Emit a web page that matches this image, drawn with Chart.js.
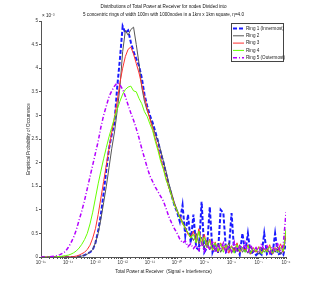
<!DOCTYPE html>
<html>
<head>
<meta charset="utf-8">
<script src="https://cdn.jsdelivr.net/npm/chart.js@4"></script>
<style>
html,body{margin:0;padding:0;background:#fff}
</style>
</head>
<body>
<canvas id="powerChart" width="316" height="289"></canvas>
<script>

// x bins: log10 of total received power
const powerExp = [-15.0,-14.9,-14.8,-14.7,-14.6,-14.5,-14.4,-14.3,-14.2,-14.1,
-14.0,-13.9,-13.8,-13.7,-13.6,-13.5,-13.4,-13.3,-13.2,-13.1,
-13.0,-12.9,-12.8,-12.7,-12.6,-12.5,-12.4,-12.3,-12.2,-12.1,
-12.0,-11.9,-11.8,-11.7,-11.6,-11.5,-11.4,-11.3,-11.2,-11.1,
-11.0,-10.9,-10.8,-10.7,-10.6,-10.5,-10.4,-10.3,-10.2,-10.1,
-10.0,-9.9,-9.8,-9.7,-9.6,-9.5,-9.4,-9.3,-9.2,-9.1,
-9.0,-8.9,-8.8,-8.7,-8.6,-8.5,-8.4,-8.3,-8.2,-8.1,
-8.0,-7.9,-7.8,-7.7,-7.6,-7.5,-7.4,-7.3,-7.2,-7.1,
-7.0,-6.9,-6.8,-6.7,-6.6,-6.5,-6.4,-6.3,-6.2,-6.1,
-6.0]

// probabilities, x 10^-3
const ring1 = [0,0,0,0,0,0,0,0,0,0,
0,0,0,0,0.01,0.02,0.04,0.07,0.1,0.15,
0.3,0.55,0.9,1.35,1.85,2.3,2.6,2.85,3.6,4.2,
4.89,4.75,4.8,4.55,4.35,4.2,4.05,3.8,3.45,3.2,
3.0,2.85,2.65,2.45,2.2,2.0,1.75,1.5,1.3,1.1,
0.95,0.75,1.1,0.45,0.9,0.3,0.9,0.2,0.15,1.17,
0.1,0.2,1.06,0.1,0.25,0.08,1.0,0.93,0.1,0.15,
0.93,0.08,0.2,0.05,0.5,0.1,0.5,0.05,0.12,0.04,
0.1,0.05,0.5,0.06,0.1,0.04,0.5,0.05,0.08,0.04,
0.3]

const ring2 = [0,0,0,0,0,0,0,0,0,0,
0,0,0,0,0.01,0.02,0.04,0.06,0.1,0.16,
0.3,0.5,0.8,1.15,1.5,1.9,2.3,2.65,3.1,3.6,
4.35,4.8,4.7,4.82,4.87,4.5,4.1,3.6,3.3,3.1,
2.95,2.78,2.6,2.45,2.25,2.02,1.8,1.55,1.35,1.15,
1.0,0.85,0.75,0.62,0.5,0.45,0.35,0.5,0.28,0.42,
0.2,0.36,0.15,0.3,0.12,0.28,0.1,0.22,0.14,0.3,
0.08,0.2,0.12,0.26,0.1,0.18,0.08,0.22,0.1,0.16,
0.06,0.2,0.1,0.18,0.08,0.16,0.1,0.22,0.06,0.14,
0.45]

const ring3 = [0,0,0,0,0,0,0,0,0,0,
0,0,0.01,0.02,0.04,0.07,0.1,0.16,0.25,0.4,
0.6,0.9,1.25,1.6,1.95,2.3,2.65,2.95,3.3,3.7,
4.0,4.25,4.4,4.45,4.3,4.1,3.9,3.65,3.4,3.15,
2.92,2.72,2.5,2.3,2.08,1.88,1.66,1.46,1.3,1.12,
0.96,0.86,0.7,0.62,0.48,0.42,0.55,0.3,0.6,0.26,
0.48,0.2,0.38,0.14,0.32,0.1,0.3,0.16,0.26,0.08,
0.24,0.12,0.3,0.1,0.2,0.14,0.26,0.06,0.2,0.1,
0.22,0.08,0.18,0.12,0.26,0.06,0.2,0.12,0.28,0.1,
0.55]

const ring4 = [0,0,0,0,0,0,0.01,0.01,0.02,0.03,
0.04,0.06,0.09,0.13,0.19,0.27,0.37,0.5,0.7,0.95,
1.25,1.55,1.82,2.08,2.32,2.55,2.75,2.95,3.13,3.3,
3.45,3.55,3.6,3.62,3.52,3.5,3.36,3.25,3.08,2.98,
2.82,2.68,2.45,2.25,2.02,1.85,1.62,1.48,1.28,1.1,
0.98,0.82,0.72,0.6,0.52,0.4,0.48,0.3,0.55,0.25,
0.42,0.2,0.35,0.15,0.3,0.12,0.28,0.1,0.25,0.15,
0.22,0.08,0.26,0.12,0.2,0.1,0.24,0.08,0.18,0.12,
0.2,0.06,0.16,0.1,0.22,0.08,0.18,0.1,0.2,0.12,
0.6]

const ring5 = [0,0,0,0,0.01,0.02,0.03,0.05,0.08,0.12,
0.2,0.3,0.42,0.58,0.78,0.98,1.2,1.45,1.7,1.95,
2.2,2.45,2.75,3.0,3.2,3.4,3.52,3.62,3.69,3.65,
3.55,3.4,3.22,3.05,2.9,2.72,2.52,2.3,2.1,1.9,
1.72,1.6,1.48,1.38,1.28,1.18,1.02,0.85,0.72,0.6,
0.5,0.38,0.3,0.34,0.22,0.28,0.18,0.25,0.14,0.3,
0.12,0.26,0.16,0.35,0.1,0.28,0.15,0.3,0.08,0.25,
0.12,0.32,0.1,0.22,0.14,0.3,0.08,0.26,0.12,0.2,
0.1,0.28,0.14,0.24,0.08,0.22,0.12,0.3,0.1,0.26,
0.95]

const ringNames = ['Ring 1 (Innermost)','Ring 2','Ring 3','Ring 4','Ring 5 (Outermost)']

const titleLines = ['Distributions of Total Power at Receiver for nodes Divided into',
'5 concentric rings of width 100m with 1000nodes in a 1km x 1km square, \u03b7=4.0']

const FONT = '"Liberation Sans", Arial, sans-serif'
const SUP = {'0':'\u2070','1':'\u00b9','2':'\u00b2','3':'\u00b3','4':'\u2074','5':'\u2075','6':'\u2076','7':'\u2077','8':'\u2078','9':'\u2079','-':'\u207b'}

function sup(n){
return String(n).split('').map(c => SUP[c]).join('')
}

function series(vals){
return powerExp.map((e,i) => ({x: Math.pow(10,e), y: vals[i]}))
}

const styles = [
{color:'#1a1aff', width:2, dash:[4,2], order:5},
{color:'#555555', width:1, dash:[], order:4},
{color:'#ff3030', width:1, dash:[], order:3},
{color:'#66ff00', width:1, dash:[], order:2},
{color:'#b400ff', width:1.5, dash:[4,2,1,2], order:1}
]

const allRings = [ring1,ring2,ring3,ring4,ring5]

const datasets = allRings.map((r,i) => ({
label: ringNames[i],
data: series(r),
borderColor: styles[i].color,
borderWidth: styles[i].width,
borderDash: styles[i].dash,
order: styles[i].order,
pointRadius: 0,
tension: 0,
fill: false
}))

// legend inside the plot + the x10^-3 exponent label
const extras = {
id:'extras',
afterDraw(chart){
const ctx = chart.ctx
const area = chart.chartArea
ctx.save()
ctx.font = '4.6px ' + FONT
ctx.fillStyle = '#222'
ctx.textBaseline = 'alphabetic'
ctx.textAlign = 'left'
ctx.fillText('\u00d7 10' + sup(-3), area.left + 1, area.top - 4)

const bx = area.right - 55, by = area.top + 2, bw = 52, bh = 38
ctx.fillStyle = '#fff'
ctx.fillRect(bx,by,bw,bh)
ctx.strokeStyle = '#444'
ctx.lineWidth = 1
ctx.setLineDash([])
ctx.strokeRect(bx+0.5,by+0.5,bw,bh)
ctx.textBaseline = 'middle'
chart.data.datasets.forEach((ds,i) => {
const y = by + 5.5 + i*7.3
ctx.strokeStyle = ds.borderColor
ctx.lineWidth = ds.borderWidth
ctx.setLineDash(ds.borderDash)
ctx.beginPath()
ctx.moveTo(bx+2, y)
ctx.lineTo(bx+13, y)
ctx.stroke()
ctx.fillStyle = '#222'
ctx.fillText(ds.label, bx+15, y)
})
ctx.restore()
}
}

new Chart(document.getElementById('powerChart'),{
type:'line',
data:{datasets:datasets},
options:{
responsive:false,
animation:false,
layout:{padding:{left:26,right:30,top:0,bottom:15}},
plugins:{
legend:{display:false},
tooltip:{enabled:false},
title:{
display:true,
text:titleLines,
fullSize:false,
color:'#111',
padding:{top:3,bottom:2},
font:{family:FONT,size:4.6,weight:'normal',lineHeight:1.74}
}
},
scales:{
x:{
type:'logarithmic',
min:1e-15,
max:1e-6,
afterFit(s){ s.height = 17 },
border:{color:'#555',width:1},
grid:{drawOnChartArea:false,tickLength:2,color:'#555'},
ticks:{
autoSkip:false,
maxRotation:0,
padding:1,
color:'#333',
font:{family:FONT,size:4.6},
callback(v){
const p = Math.log10(v)
if(Math.abs(p - Math.round(p)) < 1e-6) return '10' + sup(Math.round(p))
return ''
}
},
title:{display:true,text:'Total Power at Receiver  (Signal + Interference)',color:'#222',padding:0,font:{family:FONT,size:4.6}}
},
y:{
min:0,
max:5,
afterFit(s){ s.width = 15 },
border:{color:'#555',width:1},
grid:{drawOnChartArea:false,tickLength:2,color:'#555'},
ticks:{stepSize:0.5,padding:1,color:'#333',font:{family:FONT,size:4.6},callback:v => String(v)},
title:{display:true,text:'Empirical Probability of Occurrence',color:'#222',padding:0,font:{family:FONT,size:4.6}}
}
}
},
plugins:[extras]
})

</script>
</body>
</html>
